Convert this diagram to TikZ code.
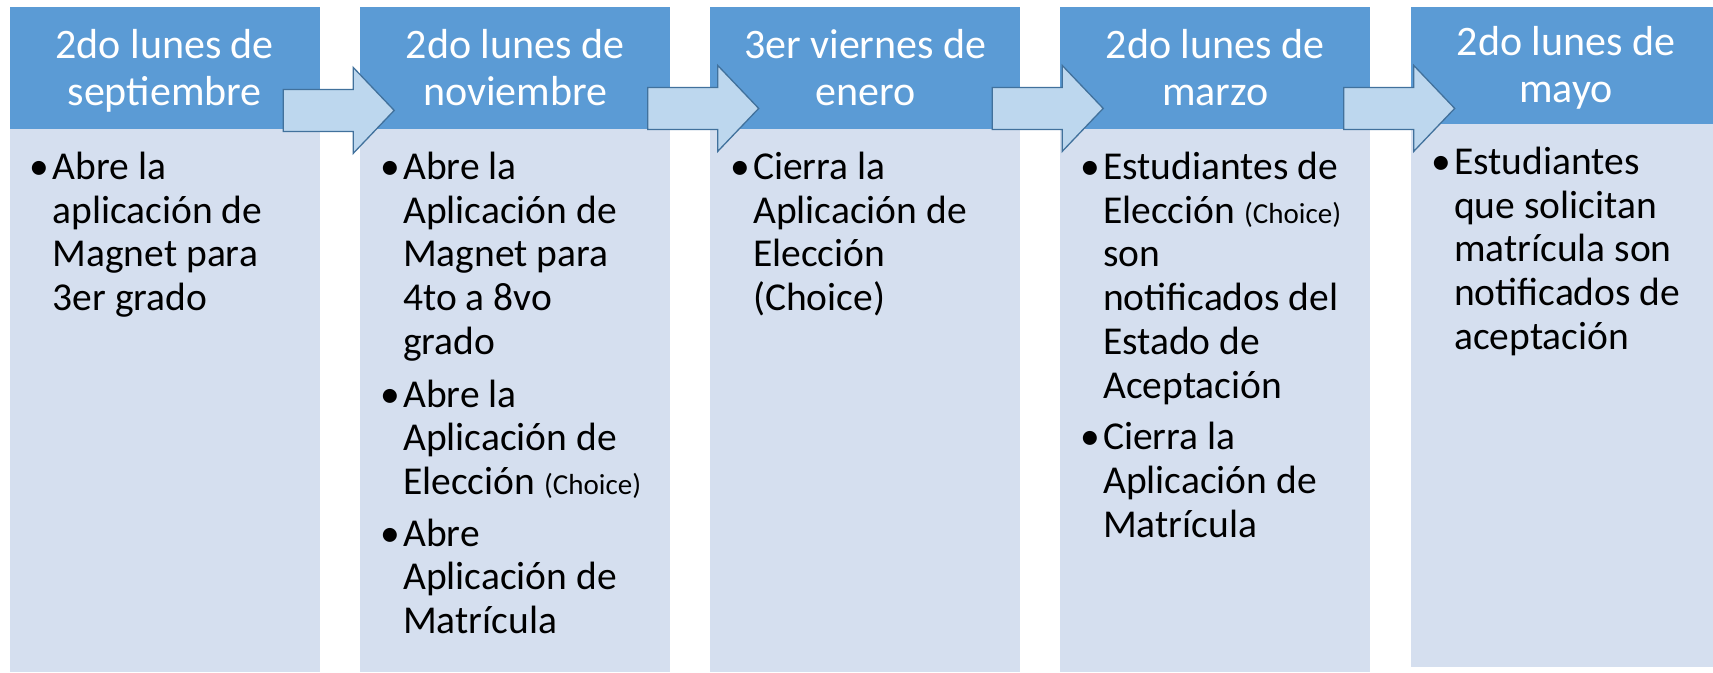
\documentclass[tikz,border=0pt]{standalone}
\usepackage{fontspec}
\setmainfont{Carlito}
\usetikzlibrary{calc}
\definecolor{head}{HTML}{5B9BD5}
\definecolor{body}{HTML}{D5DFEF}
\definecolor{flow}{HTML}{BDD7EE}
\definecolor{flowLine}{HTML}{41719C}
\tikzset{head/.style={text=white,fill=head,rectangle,anchor=north west,minimum width=310,minimum height=122,inner sep=0pt,align=center,text height=84pt,text depth=10pt,font=\fontsize{42}{47}\selectfont}}
\tikzset{body/.style={fill=body,rectangle,anchor=north west,minimum width=310,minimum height=543,inner sep=0pt}}
\tikzset{items/.style={anchor=base west,inner sep=0pt,font=\fontsize{39.5}{43.7}\selectfont}}
\tikzset{flow/.style={draw=flowLine,fill=flow,line width=1.3pt,line join=miter}}
\tikzset{flowarrow/.pic={\draw[flow] (-55.5,-21) -- (14.5,-21) -- (14.5,-43) -- (55.5,0) -- (14.5,43) -- (14.5,21) -- (-55.5,21) -- cycle;}}
\newcommand{\bul}{\llap{\textbullet\hspace{3.5pt}}}
\newcommand{\choice}{{\fontsize{29}{32}\selectfont (Choice)}}

\begin{document}
\begin{tikzpicture}[x=1pt,y=-1pt]
                \useasboundingbox (0,0) rectangle (1713,672);
                % columns
                \node[body] (b1) at (9.5,129) {};
                \node[body] (b2) at (360,129) {};
                \node[body] (b3) at (710,129) {};
                \node[body] (b4) at (1060,129) {};
                \node[body] (b5) at (1411,124) {};
                \node[head] (h1) at (9.5,7) {2do lunes de\\septiembre};
                \node[head] (h2) at (360,7) {2do lunes de\\noviembre};
                \node[head] (h3) at (710,7) {3er viernes de\\enero};
                \node[head] (h4) at (1060,7) {2do lunes de\\marzo};
                \node[head,minimum height=117] (h5) at (1411,7) {2do lunes de\\mayo};
                % bullets
                \node[items] (l1) at ($(b1.north west)+(43,50.5)$) {\begin{tabular}[t]{@{}l@{}}
                \bul Abre la\\ aplicación de\\ Magnet para\\ 3er grado
                \end{tabular}};
                \node[items] (l2) at ($(b2.north west)+(43,50.5)$) {\begin{tabular}[t]{@{}l@{}}
                \bul Abre la\\ Aplicación de\\ Magnet para\\ 4to a 8vo\\ grado\\[9pt]
                \bul Abre la\\ Aplicación de\\ Elección \choice\\[8pt]
                \bul Abre\\ Aplicación de\\ Matrícula
                \end{tabular}};
                \node[items] (l3) at ($(b3.north west)+(43,50.5)$) {\begin{tabular}[t]{@{}l@{}}
                \bul Cierra la\\ Aplicación de\\ Elección\\ (Choice)
                \end{tabular}};
                \node[items] (l4) at ($(b4.north west)+(43,50.5)$) {\begin{tabular}[t]{@{}l@{}}
                \bul Estudiantes de\\ Elección \choice\\ son\\ notificados del\\ Estado de\\ Aceptación\\[8pt]
                \bul Cierra la\\ Aplicación de\\ Matrícula
                \end{tabular}};
                \node[items] (l5) at ($(b5.north west)+(43,50.5)$) {\begin{tabular}[t]{@{}l@{}}
                \bul Estudiantes\\ que solicitan\\ matrícula son\\ notificados de\\ aceptación
                \end{tabular}};
                % arrows
                \pic (a1) at ($(h1.south east)!0.5!(h2.south west)+(-1.25,-19)$) {flowarrow};
                \pic (a2) at ($(h2.south east)!0.5!(h3.south west)+(13,-21)$) {flowarrow};
                \pic (a3) at ($(h3.south east)!0.5!(h4.south west)+(7.5,-21)$) {flowarrow};
                \pic (a4) at ($(h4.south east)!0.5!(h5.south west)+(8.5,-18.5)$) {flowarrow};
\end{tikzpicture}
\end{document}
